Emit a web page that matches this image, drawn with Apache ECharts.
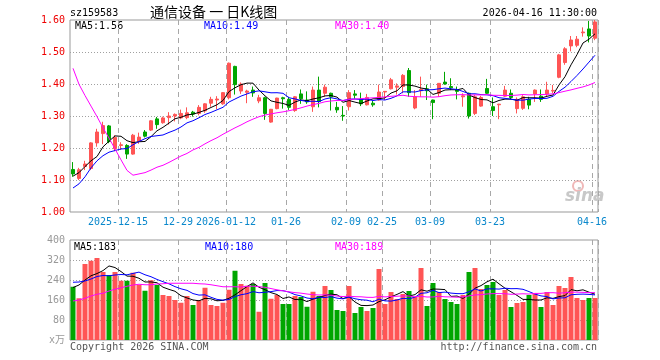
<!DOCTYPE html>
<html>
<head>
<meta charset="utf-8">
<script src="https://cdn.jsdelivr.net/npm/echarts@6/dist/echarts.min.js"></script>
<style>html,body{margin:0;padding:0;background:#fff}#c{width:660px;height:360px}</style>
</head>
<body>
<div id="c"></div>
<script>
const dates = ['2025-12-03','2025-12-04','2025-12-05','2025-12-08','2025-12-09','2025-12-10','2025-12-11','2025-12-12','2025-12-15','2025-12-16','2025-12-17','2025-12-18','2025-12-19','2025-12-22','2025-12-23','2025-12-24','2025-12-25','2025-12-26','2025-12-29','2025-12-30','2025-12-31',
'2026-01-05','2026-01-06','2026-01-07','2026-01-08','2026-01-09','2026-01-12','2026-01-13','2026-01-14','2026-01-15','2026-01-16','2026-01-19','2026-01-20','2026-01-21','2026-01-22','2026-01-23','2026-01-26','2026-01-27','2026-01-28','2026-01-29','2026-01-30',
'2026-02-02','2026-02-03','2026-02-04','2026-02-05','2026-02-06','2026-02-09','2026-02-10','2026-02-11','2026-02-12','2026-02-13','2026-02-24','2026-02-25','2026-02-26','2026-02-27',
'2026-03-02','2026-03-03','2026-03-04','2026-03-05','2026-03-06','2026-03-09','2026-03-10','2026-03-11','2026-03-12','2026-03-13','2026-03-16','2026-03-17','2026-03-18','2026-03-19','2026-03-20','2026-03-23','2026-03-24','2026-03-25','2026-03-26','2026-03-27','2026-03-30','2026-03-31',
'2026-04-01','2026-04-02','2026-04-03','2026-04-07','2026-04-08','2026-04-09','2026-04-10','2026-04-13','2026-04-14','2026-04-15','2026-04-16'];

const opens = [1.133,1.105,1.142,1.136,1.216,1.245,1.269,1.198,1.208,1.208,
1.181,1.221,1.250,1.256,1.291,1.279,1.295,1.300,1.294,1.295,
1.312,1.308,1.316,1.340,1.350,1.338,1.357,1.455,1.378,1.374,
1.381,1.347,1.357,1.281,1.323,1.357,1.352,1.317,1.369,1.350,
1.329,1.381,1.371,1.371,1.327,1.302,1.329,1.369,1.352,1.335,
1.340,1.350,1.375,1.385,1.390,1.392,1.442,1.325,1.379,1.385,
1.350,1.371,1.406,1.392,1.381,1.360,1.371,1.308,1.331,1.386,
1.329,1.335,1.362,1.371,1.323,1.324,1.352,1.369,1.362,1.369,
1.378,1.421,1.467,1.519,1.521,1.560,1.572,1.543];
const closes = [1.119,1.132,1.150,1.216,1.250,1.270,1.220,1.233,1.210,1.181,
1.240,1.234,1.237,1.285,1.273,1.294,1.300,1.305,1.308,1.310,
1.306,1.327,1.338,1.352,1.353,1.373,1.465,1.398,1.400,1.378,
1.372,1.357,1.308,1.321,1.356,1.354,1.327,1.360,1.354,1.344,
1.381,1.345,1.390,1.360,1.319,1.300,1.373,1.365,1.338,1.358,
1.335,1.375,1.377,1.413,1.394,1.427,1.373,1.360,1.383,1.379,
1.342,1.402,1.400,1.388,1.377,1.363,1.300,1.360,1.358,1.371,
1.317,1.337,1.381,1.358,1.352,1.360,1.334,1.381,1.352,1.381,
1.380,1.491,1.510,1.5375,1.540,1.5625,1.550,1.594];
const lows = [1.110,1.100,1.131,1.131,1.204,1.212,1.215,1.190,1.194,1.166,
1.179,1.213,1.233,1.253,1.260,1.276,1.273,1.283,1.290,1.290,
1.298,1.302,1.310,1.329,1.321,1.335,1.352,1.367,1.369,1.340,
1.360,1.340,1.288,1.279,1.321,1.323,1.319,1.313,1.338,1.338,
1.313,1.327,1.360,1.317,1.310,1.285,1.317,1.354,1.331,1.333,
1.329,1.348,1.350,1.383,1.367,1.371,1.360,1.321,1.360,1.350,
1.290,1.360,1.398,1.381,1.352,1.329,1.292,1.303,1.329,1.369,
1.300,1.290,1.360,1.352,1.308,1.319,1.321,1.344,1.344,1.362,
1.371,1.418,1.460,1.502,1.515,1.548,1.530,1.537];
const highs = [1.156,1.138,1.160,1.218,1.260,1.282,1.272,1.240,1.218,1.212,
1.244,1.248,1.256,1.287,1.297,1.298,1.312,1.308,1.320,1.327,
1.316,1.334,1.340,1.360,1.362,1.375,1.467,1.457,1.405,1.382,
1.392,1.366,1.360,1.322,1.357,1.360,1.360,1.362,1.383,1.377,
1.392,1.423,1.398,1.373,1.344,1.331,1.381,1.381,1.373,1.369,
1.348,1.398,1.378,1.419,1.402,1.431,1.450,1.381,1.423,1.398,
1.351,1.403,1.438,1.418,1.392,1.371,1.373,1.366,1.363,1.416,
1.358,1.338,1.394,1.383,1.358,1.365,1.360,1.383,1.383,1.407,
1.397,1.494,1.515,1.550,1.550,1.577,1.597,1.600];
const volumes = [213,167,304,317,328,272,260,272,237,237,
269,220,197,239,220,180,176,160,149,176,
140,159,209,140,136,149,201,277,224,217,
224,113,228,165,180,144,144,176,172,133,
193,176,216,200,120,116,216,108,132,116,
128,284,144,192,164,184,196,172,288,136,
228,192,164,152,144,180,272,288,204,220,
232,180,200,132,148,152,180,188,132,192,
140,216,208,252,168,160,168,168];

// moving-average values before a full window exists
const ma5Head = [1.112,1.123,1.142,1.160];
const ma10Head = [1.075,1.088,1.110,1.138,1.160,1.176,1.187,1.192,1.197];
const ma30Head = [1.449,1.399,1.364,1.331,1.298,1.263,1.231,1.197,1.163,1.130,1.115,1.119,1.123,1.131,1.140,1.146,1.155,1.165,1.175,1.183,1.194,1.202,1.213,1.223,1.232,1.243,1.253,1.263,1.272];
const vma5Head = [210,220,240,257];
const vma10Head = [231,232,236,244,254,258,257,260,262];
const vma30Head = [156,160,167,176,183,187,196,203,209,215,220,223,221,221,224,225,227,227,227,227,227,225,224,221,217,213,213,213,212];

const tickIndex = [8,18,26,36,46,52,60,70,87];
const tickText = ['2025-12-15','12-29','2026-01-12','01-26','02-09','02-25','03-09','03-23','04-16'];
const priceTicks = [1.0,1.6,0.1];
const volTicks = [0,400,80];
const priceLegend = ['MA5:1.56','MA10:1.49','MA30:1.40'];
const volLegend = ['MA5:183','MA10:180','MA30:189'];

function ma(arr, n, head) {
  return arr.map((v, i) => {
    if (i < n - 1) return head[i];
    let s = 0;
    for (let k = i - n + 1; k <= i; k++) s += arr[k];
    return +(s / n).toFixed(4);
  });
}

const UP = '#ff5555', DOWN = '#00a600';
const FONT = "'DejaVu Sans Mono', 'Noto Sans CJK SC', monospace";
const showTick = (idx) => tickIndex.indexOf(idx) >= 0;
const vLine = {show: true, interval: showTick, lineStyle: {color: '#a8a8a8', width: 1, type: [5, 4]}};
const hLine = {show: true, showMinLine: false, showMaxLine: false, lineStyle: {color: '#a0a0a0', width: 1, type: [1, 2]}};

const chart = echarts.init(document.getElementById('c'), null, {renderer: 'canvas'});
const lineS = (name, data, color, xi, yi) => ({
  name, type: 'line', data, xAxisIndex: xi, yAxisIndex: yi, showSymbol: false, symbol: 'none',
  silent: true, lineStyle: {color, width: 1}, z: 5
});

const txt = (x, y, text, color, extra) => Object.assign({
  type: 'text', x, y, silent: true,
  style: Object.assign({text, fill: color, font: '10px ' + FONT, textVerticalAlign: 'middle', textAlign: 'left'}, extra || {})
});

chart.setOption({
  animation: false,
  backgroundColor: '#fff',
  grid: [
    {left: 70, right: 62, top: 20, height: 192, show: true, borderColor: '#999', borderWidth: 1, backgroundColor: 'transparent'},
    {left: 70, right: 62, top: 240, height: 100, show: true, borderColor: '#999', borderWidth: 1, backgroundColor: 'transparent'}
  ],
  xAxis: [
    {type: 'category', gridIndex: 0, data: dates, boundaryGap: true,
     axisLine: {show: false}, axisTick: {show: false},
     axisLabel: {interval: showTick, formatter: (v, i) => tickText[tickIndex.indexOf(i)],
       color: '#0a88cc', fontFamily: FONT, fontSize: 10, margin: 5, padding: [0, 6, 0, 0]},
     splitLine: vLine},
    {type: 'category', gridIndex: 1, data: dates, boundaryGap: true,
     axisLine: {show: false}, axisTick: {show: false}, axisLabel: {show: false},
     splitLine: vLine}
  ],
  yAxis: [
    {type: 'value', gridIndex: 0, min: priceTicks[0], max: priceTicks[1], interval: priceTicks[2],
     axisLine: {show: false}, axisTick: {show: false},
     axisLabel: {formatter: v => v.toFixed(2), color: '#ee0000', fontFamily: FONT, fontSize: 10, margin: 5},
     splitLine: hLine},
    {type: 'value', gridIndex: 1, min: volTicks[0], max: volTicks[1], interval: volTicks[2],
     axisLine: {show: false}, axisTick: {show: false},
     axisLabel: {formatter: v => v === 0 ? 'x万' : String(v), color: '#999', fontFamily: FONT, fontSize: 10, margin: 5},
     splitLine: hLine}
  ],
  series: [
    {type: 'candlestick', xAxisIndex: 0, yAxisIndex: 0, barWidth: 4, silent: true,
     data: dates.map((d, i) => [opens[i], closes[i], lows[i], highs[i]]),
     itemStyle: {color: UP, color0: DOWN, borderColor: UP, borderColor0: DOWN, borderWidth: 1}},
    lineS('MA5', ma(closes, 5, ma5Head), '#000', 0, 0),
    lineS('MA10', ma(closes, 10, ma10Head), '#0000ff', 0, 0),
    lineS('MA30', ma(closes, 30, ma30Head), '#ff00ff', 0, 0),
    {type: 'bar', xAxisIndex: 1, yAxisIndex: 1, barWidth: 5, silent: true,
     data: volumes.map((v, i) => ({value: v, itemStyle: {color: closes[i] >= opens[i] ? UP : DOWN}}))},
    lineS('VMA5', ma(volumes, 5, vma5Head), '#000', 1, 1),
    lineS('VMA10', ma(volumes, 10, vma10Head), '#0000ff', 1, 1),
    lineS('VMA30', ma(volumes, 30, vma30Head), '#ff00ff', 1, 1)
  ],
  graphic: [
    txt(70, 13, 'sz159583', '#000'),
    txt(150, 12, '通信设备 一 日K线图', '#000', {font: "14px 'Noto Sans CJK SC', sans-serif"}),
    txt(597, 13, '2026-04-16 11:30:00', '#000', {textAlign: 'right'}),
    txt(75, 26, priceLegend[0], '#000'),
    txt(204, 26, priceLegend[1], '#0000ff'),
    txt(335, 26, priceLegend[2], '#ff00ff'),
    txt(74, 247, volLegend[0], '#000'),
    txt(205, 247, volLegend[1], '#0000ff'),
    txt(335, 247, volLegend[2], '#ff00ff'),
    txt(70, 347, 'Copyright 2026 SINA.COM', '#555'),
    txt(597, 347, 'http://finance.sina.com.cn', '#555', {textAlign: 'right'}),
    {type: 'circle', shape: {cx: 578, cy: 186, r: 5}, style: {fill: 'none', stroke: '#f0b8b8', lineWidth: 2}, silent: true},
    txt(565, 197, 'sina', '#c8c8c8', {font: "italic bold 17px 'DejaVu Sans', sans-serif"})
  ]
});
</script>
</body>
</html>
